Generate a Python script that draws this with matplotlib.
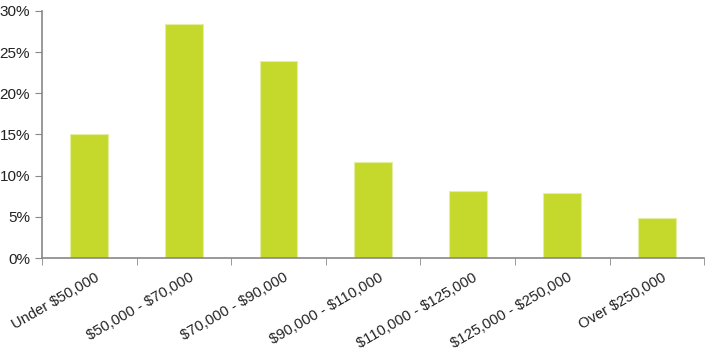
import matplotlib.pyplot as plt
import numpy as np
import matplotlib.transforms as mtransforms
from matplotlib.ticker import PercentFormatter

# data
categories = ['Under $50,000', '$50,000 - $70,000', '$70,000 - $90,000',
              '$90,000 - $110,000', '$110,000 - $125,000', '$125,000 - $250,000',
              'Over $250,000']
shares = [15.1, 28.4, 23.9, 11.6, 8.1, 7.9, 4.9]

plt.rcParams['font.family'] = ['Liberation Sans', 'DejaVu Sans']
plt.rcParams['text.parse_math'] = False

fig, ax = plt.subplots(figsize=(7.12, 3.53), dpi=100)
fig.subplots_adjust(left=0.059, right=0.989, top=0.969, bottom=0.269)

x = np.arange(len(categories))
ax.bar(x, shares, width=0.4, color='#c5d92d', edgecolor='#e4eda0', linewidth=0.8)

ax.set_xlim(-0.5, len(categories) - 0.5)
ax.set_ylim(0, 30)
ax.set_yticks(np.arange(0, 31, 5))
ax.yaxis.set_major_formatter(PercentFormatter(decimals=0))

# category labels between boundary ticks
ax.set_xticks(x)
ax.set_xticklabels(categories, rotation=30, ha='right', rotation_mode='anchor')
ax.tick_params(axis='x', length=0, pad=9)
# shift labels a little to the right like the original
offset = mtransforms.ScaledTranslation(5 / 100, 0, fig.dpi_scale_trans)
for lbl in ax.get_xticklabels():
    lbl.set_transform(lbl.get_transform() + offset)
ax.set_xticks(np.arange(-0.5, len(categories)), minor=True)
ax.tick_params(axis='x', which='minor', length=5, color='#888888', direction='out')
ax.tick_params(axis='y', length=5, color='#888888', labelsize=11, labelcolor='#222222')
ax.tick_params(axis='x', labelsize=10.6, labelcolor='#222222')

for s in ['top', 'right']:
    ax.spines[s].set_visible(False)
for s in ['left', 'bottom']:
    ax.spines[s].set_color('#888888')
    ax.spines[s].set_linewidth(1.2)

plt.savefig('out.png', dpi=100)
